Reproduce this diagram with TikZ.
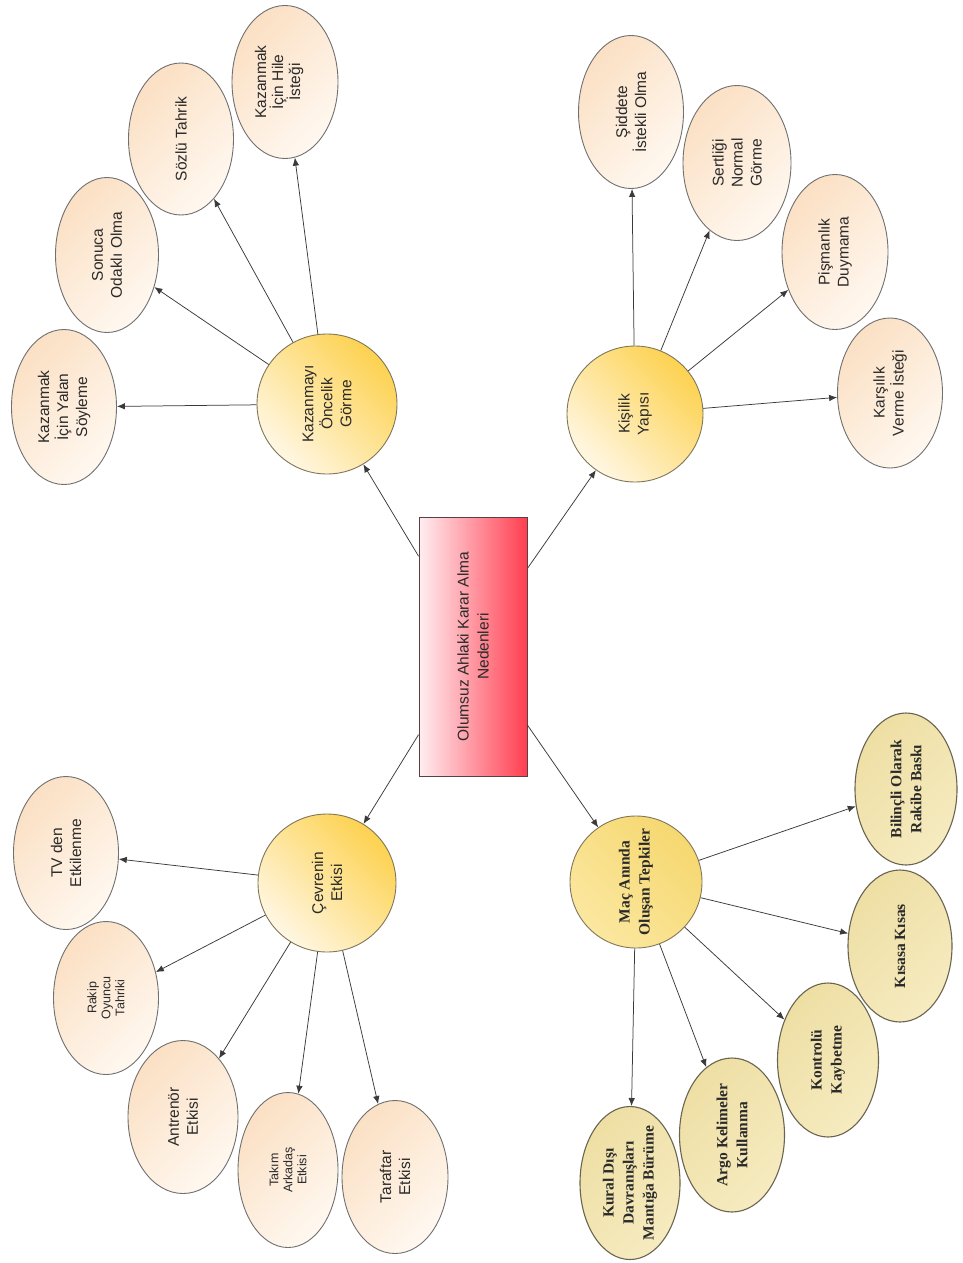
\documentclass[tikz,border=0pt]{standalone}
\usepackage{fontspec}
\setmainfont{Liberation Sans}
\newfontfamily\tnrfont{Liberation Serif}
\usetikzlibrary{shapes.geometric,arrows.meta}
\definecolor{peachA}{HTML}{FBE0C4}
\definecolor{peachB}{HTML}{FFF8F0}
\definecolor{leafline}{HTML}{707070}
\definecolor{hubA}{HTML}{FDD250}
\definecolor{hubB}{HTML}{FFF7E4}
\definecolor{hubline}{HTML}{80775A}
\definecolor{khakiA}{HTML}{EEDFA4}
\definecolor{khakiB}{HTML}{F6EBC0}
\definecolor{khakiline}{HTML}{6A6450}
\definecolor{macA}{HTML}{F6D870}
\definecolor{macB}{HTML}{FBE7A0}
\definecolor{rectL}{HTML}{FFEEF1}
\definecolor{rectR}{HTML}{FF3E50}
\definecolor{rectline}{HTML}{5A4044}
\definecolor{txt}{HTML}{2A2A2A}
\definecolor{arrline}{HTML}{3A3A3A}
\tikzset{
  leaf/.style={ellipse, draw=leafline, line width=0.9pt, inner sep=0pt,
    top color=peachA, bottom color=peachB, shading angle=45},
  kleaf/.style={ellipse, draw=khakiline, line width=1.1pt, inner sep=0pt,
    top color=khakiA, bottom color=khakiB, shading angle=45},
  hub/.style={circle, draw=hubline, line width=0.9pt, inner sep=0pt,
    top color=hubA, bottom color=hubB, shading angle=-45},
  machub/.style={circle, draw=hubline, line width=0.9pt, inner sep=0pt,
    top color=macA, bottom color=macB, shading angle=-45},
  lbl/.style={rotate=90, align=center, text=txt, inner sep=0pt,
    font=\fontsize{15.5}{19}\selectfont},
  hlbl/.style={rotate=90, align=center, text=txt, inner sep=0pt,
    font=\fontsize{15.5}{17}\selectfont},
  slbl/.style={rotate=90, align=center, text=txt, inner sep=0pt,
    font=\fontsize{12.5}{14}\selectfont},
  tlbl/.style={rotate=90, align=center, text=txt, inner sep=0pt,
    font=\tnrfont\bfseries\fontsize{15.5}{20}\selectfont},
  arr/.style={draw=arrline, line width=0.75pt, -{Latex[length=8pt,width=6.5pt]}},
}
\begin{document}
\begin{tikzpicture}[x=1pt,y=-1pt]
\useasboundingbox (0,0) rectangle (963,1263);
\fill[white] (0,0) rectangle (963,1263);

% centre
\node[rectangle, draw=rectline, line width=0.9pt, left color=rectL, right color=rectR,
      minimum width=108pt, minimum height=259pt, inner sep=0pt] (R) at (473,646.5) {};
\node[lbl, font=\fontsize{15.5}{20}\selectfont] (Rt) at (R) {Olumsuz Ahlaki Karar Alma\\Nedenleri};

% hubs
\node[hub, minimum size=140pt] (H1) at (327,404) {};
\node[lbl] (H1t) at (H1) {Kazanmayı\\Öncelik\\Görme};
\node[hub, minimum size=136pt] (H2) at (635,414) {};
\node[lbl] (H2t) at (H2) {Kişilik\\Yapısı};
\node[hub, minimum size=138pt] (H3) at (327,883) {};
\node[lbl] (H3t) at (H3) {Çevrenin\\Etkisi};
\node[machub, minimum size=132pt] (H4) at (636,882) {};
\node[tlbl] (H4t) at (H4) {Maç Anında\\Oluşan Tepkiler};

% leaves of H1
\node[leaf, minimum width=105pt, minimum height=155pt] (A1) at (64,407) {};
\node[lbl] (A1t) at (A1) {Kazanmak\\İçin Yalan\\Söyleme};
\node[leaf, minimum width=103pt, minimum height=155pt] (A2) at (107,255) {};
\node[lbl] (A2t) at (A2) {Sonuca\\Odaklı Olma};
\node[leaf, minimum width=105pt, minimum height=152pt] (A3) at (181,139) {};
\node[lbl] (A3t) at (A3) {Sözlü Tahrik};
\node[leaf, minimum width=106pt, minimum height=153pt] (A4) at (285,82) {};
\node[hlbl] (A4t) at (279,82) {Kazanmak\\İçin Hile\\İsteği};

% leaves of H2
\node[leaf, minimum width=105pt, minimum height=153pt] (B1) at (631,112) {};
\node[lbl] (B1t) at (B1) {Şiddete\\İstekli Olma};
\node[leaf, minimum width=108pt, minimum height=155pt] (B2) at (737,163) {};
\node[lbl] (B2t) at (B2) {Sertliği\\Normal\\Görme};
\node[leaf, minimum width=106pt, minimum height=155pt] (B3) at (835,252) {};
\node[lbl] (B3t) at (B3) {Pişmanlık\\Duymama};
\node[leaf, minimum width=105pt, minimum height=150pt] (B4) at (890,393) {};
\node[lbl] (B4t) at (B4) {Karşılık\\Verme İsteği};

% leaves of H3
\node[leaf, minimum width=105pt, minimum height=153pt] (C1) at (66,853) {};
\node[lbl] (C1t) at (C1) {TV den\\Etkilenme};
\node[leaf, minimum width=105pt, minimum height=153pt] (C2) at (106,998) {};
\node[slbl] (C2t) at (C2) {Rakip\\Oyuncu\\Tahriki};
\node[leaf, minimum width=110pt, minimum height=153pt] (C3) at (183,1117) {};
\node[lbl] (C3t) at (C3) {Antrenör\\Etkisi};
\node[leaf, minimum width=100pt, minimum height=155pt] (C4) at (288,1170) {};
\node[slbl] (C4t) at (C4) {Takım\\Arkadaş\\Etkisi};
\node[leaf, minimum width=106pt, minimum height=153pt] (C5) at (395,1177) {};
\node[lbl] (C5t) at (C5) {Taraftar\\Etkisi};

% leaves of H4
\node[kleaf, minimum width=100pt, minimum height=153pt] (D1) at (630,1183) {};
\node[tlbl] (D1t) at (D1) {Kural Dışı\\Davranışları\\Mantığa Bürüme};
\node[kleaf, minimum width=105pt, minimum height=154pt] (D2) at (732,1135) {};
\node[tlbl] (D2t) at (D2) {Argo Kelimeler\\Kullanma};
\node[kleaf, minimum width=101pt, minimum height=154pt] (D3) at (828,1060) {};
\node[tlbl] (D3t) at (D3) {Kontrolü\\Kaybetme};
\node[kleaf, minimum width=104pt, minimum height=152pt] (D4) at (900,946) {};
\node[tlbl] (D4t) at (D4) {Kısasa Kısas};
\node[kleaf, minimum width=102pt, minimum height=152pt] (D5) at (906,789) {};
\node[tlbl] (D5t) at (D5) {Bilinçli Olarak\\Rakibe Baskı};

% connectors
\draw[arr] (R) -- (H1);
\draw[arr] (R) -- (H2);
\draw[arr] (R) -- (H3);
\draw[arr] (R) -- (H4);
\foreach \l in {A1,A2,A3,A4} \draw[arr] (H1) -- (\l);
\foreach \l in {B1,B2,B3,B4} \draw[arr] (H2) -- (\l);
\foreach \l in {C1,C2,C3,C4,C5} \draw[arr] (H3) -- (\l);
\foreach \l in {D1,D2,D3,D4,D5} \draw[arr] (H4) -- (\l);
\end{tikzpicture}
\end{document}
